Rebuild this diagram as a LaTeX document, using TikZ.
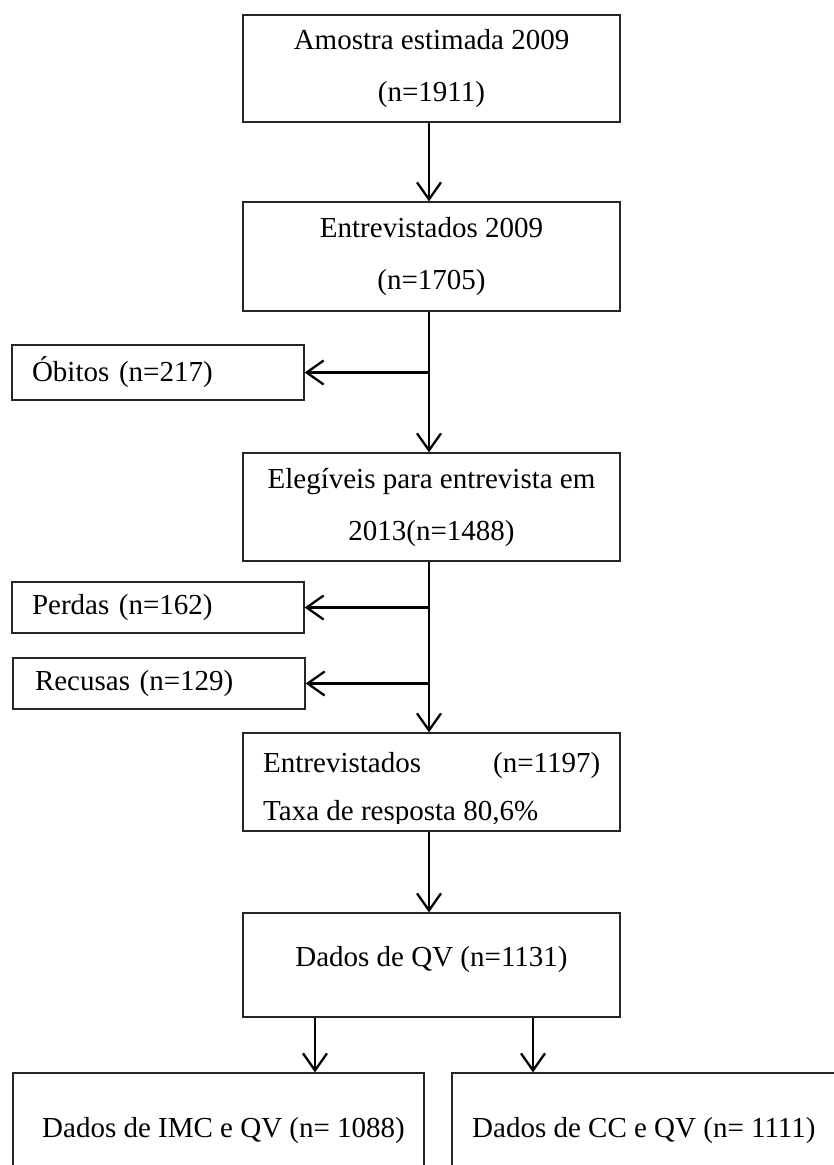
\documentclass[tikz,border=0pt]{standalone}
\usepackage{fontspec}
\setmainfont{Liberation Serif}
\usetikzlibrary{arrows.meta}

\tikzset{
  box/.style={draw=black!85, line width=1.3pt, inner sep=0pt,
              font=\fontsize{29}{52}\selectfont, align=center},
  mainbox/.style={box, minimum width=377pt},
  sidebox/.style={box, align=left, minimum height=#1},
  txt/.style={inner sep=0pt, font=\fontsize{29}{35}\selectfont},
  flow/.style={line width=2.3pt, -{Straight Barb[length=17pt,width=24pt]}}
}

\begin{document}
\begin{tikzpicture}[x=1pt, y=-1pt]
  \useasboundingbox (0,0) rectangle (834,1165);
  \clip (0,0) rectangle (834,1165);

  % main column
  \node[mainbox, minimum height=107pt] (b1) at (431.5,68.5)
    {Amostra estimada 2009\\(n=1911)};
  \node[mainbox, minimum height=109pt] (b2) at (431.5,256.5)
    {Entrevistados 2009\\(n=1705)};
  \node[mainbox, minimum height=108pt] (b3) at (431.5,507)
    {Elegíveis para entrevista em\\2013(n=1488)};
  \node[mainbox, minimum height=98pt] (b4) at (431.5,782) {};
  \node[mainbox, minimum height=104pt] (b5) at (431.5,965) {};

  % exclusions on the left
  \node[sidebox=55pt, text width=252pt, inner xsep=20pt] (obitos) at (158,372.5)
    {Óbitos (n=217)};
  \node[sidebox=51pt, text width=252pt, inner xsep=20pt] (perdas) at (158,607.5)
    {Perdas (n=162)};
  \node[sidebox=51pt, text width=248pt, inner xsep=22pt] (recusas) at (159,683.5)
    {Recusas (n=129)};

  % final split (boxes run past the lower edge)
  \node[box, minimum width=411pt, minimum height=130pt] (imc) at (218.5,1138) {};
  \node[box, minimum width=410pt, minimum height=130pt] (cc) at (657,1138) {};

  % texts of the boxes without inline content
  \node[txt, anchor=base west] (b4a) at (263,772)
    {\hbox to 337pt{Entrevistados\hfill(n=1197)}};
  \begin{scope}
    \clip (250,790) rectangle (615,823);
    \node[txt, anchor=base west] (b4b) at (263,820) {Taxa de resposta 80,6\%};
  \end{scope}
  \node[txt, anchor=base] (b5t) at (431.5,966) {Dados de QV (n=1131)};
  \node[txt, anchor=base west] (imct) at (42,1137) {Dados de IMC e QV (n= 1088)};
  \node[txt, anchor=base west] (cct) at (472,1137) {Dados de CC e QV (n= 1111)};

  % connectors
  \coordinate (spine) at (429,0);
  \coordinate (sl) at (315,0);
  \coordinate (sr) at (533,0);

  \draw[flow] (b1.south -| spine) -- (b2.north -| spine);
  \draw[flow] (b2.south -| spine) -- (b3.north -| spine);
  \draw[flow] (b3.south -| spine) -- (b4.north -| spine);
  \draw[flow] (b4.south -| spine) -- (b5.north -| spine);
  \draw[flow] (obitos.east -| spine) -- (obitos.east);
  \draw[flow] (perdas.east -| spine) -- (perdas.east);
  \draw[flow] (recusas.east -| spine) -- (recusas.east);
  \draw[flow] (b5.south -| sl) -- (imc.north -| sl);
  \draw[flow] (b5.south -| sr) -- (cc.north -| sr);
\end{tikzpicture}
\end{document}
